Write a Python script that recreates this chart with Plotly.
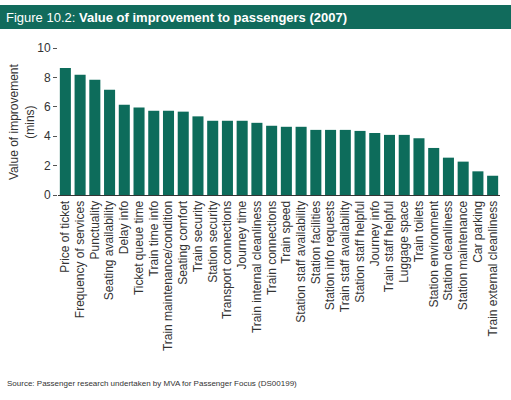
import plotly.graph_objects as go

categories = [
    "Price of ticket", "Frequency of services", "Punctuality", "Seating availability",
    "Delay info", "Ticket queue time", "Train time info", "Train maintenance/condition",
    "Seating comfort", "Train security", "Station security", "Transport connections",
    "Journey time", "Train internal cleanliness", "Train connections", "Train speed",
    "Station staff availability", "Station facilities", "Station info requests",
    "Train staff availability", "Station staff helpful", "Journey info",
    "Train staff helpful", "Luggage space", "Train toilets", "Station environment",
    "Station cleanliness", "Station maintenance", "Car parking",
    "Train external cleanliness",
]
values = [
    8.64, 8.18, 7.84, 7.16, 6.14, 5.96, 5.73, 5.73, 5.67, 5.35,
    5.05, 5.05, 5.05, 4.91, 4.71, 4.64, 4.64, 4.43, 4.43, 4.43,
    4.36, 4.22, 4.09, 4.09, 3.86, 3.20, 2.54, 2.27, 1.61, 1.31,
]
y_ticks = [0, 2, 4, 6, 8, 10]

W, H = 511, 400
L, R, T, B = 58, 11, 48, 205
pw, ph = W - L - R, H - T - B

def px_x(p):
    return (p - L) / pw

def px_y(p):
    return (H - B - p) / ph

GREEN = "#0d6c5b"
FONT = "Liberation Sans, Arial, sans-serif"

fig = go.Figure(go.Bar(
    x=categories, y=values, marker_color=GREEN, marker_line_width=0,
))

fig.update_layout(
    width=W, height=H,
    margin=dict(l=L, r=R, t=T, b=B, autoexpand=False),
    paper_bgcolor="white", plot_bgcolor="white",
    bargap=0.25,
    showlegend=False,
    font=dict(family=FONT, size=12, color="#333333"),
    xaxis=dict(
        showline=True, linecolor="#333333", linewidth=1,
        tickangle=-90, ticks="", showgrid=False, automargin=False,
        tickfont=dict(size=12, color="#333333"),
    ),
    yaxis=dict(
        range=[0, 10], tickvals=y_ticks, showgrid=False, zeroline=False,
        ticks="outside", ticklen=4, tickcolor="#555555", tickwidth=1,
        showline=False, automargin=False, tickfont=dict(size=12, color="#333333"),
    ),
    shapes=[dict(
        type="rect", xref="paper", yref="paper",
        x0=px_x(0), x1=px_x(W), y0=px_y(29), y1=px_y(5),
        fillcolor="#116b5c", line_width=0, layer="below",
    )],
    annotations=[
        dict(
            xref="paper", yref="paper", x=px_x(4), y=px_y(17),
            xanchor="left", yanchor="middle", showarrow=False,
            text="Figure 10.2: <b>Value of improvement to passengers (2007)</b>",
            font=dict(size=13, color="white", family=FONT),
        ),
        dict(
            xref="paper", yref="paper", x=px_x(22), y=px_y(122),
            xanchor="center", yanchor="middle", showarrow=False, textangle=-90,
            text="Value of improvement<br>(mins)",
            font=dict(size=12, color="#333333", family=FONT),
        ),
        dict(
            xref="paper", yref="paper", x=px_x(5), y=px_y(383),
            xanchor="left", yanchor="middle", showarrow=False,
            text="Source: Passenger research undertaken by MVA for Passenger Focus (DS00199)",
            font=dict(size=8, color="#333333", family=FONT),
        ),
    ],
)

fig.write_html(
    "out.html",
    config={"displayModeBar": False},
    post_script="document.body.style.margin='0';document.body.style.overflow='hidden';",
)
